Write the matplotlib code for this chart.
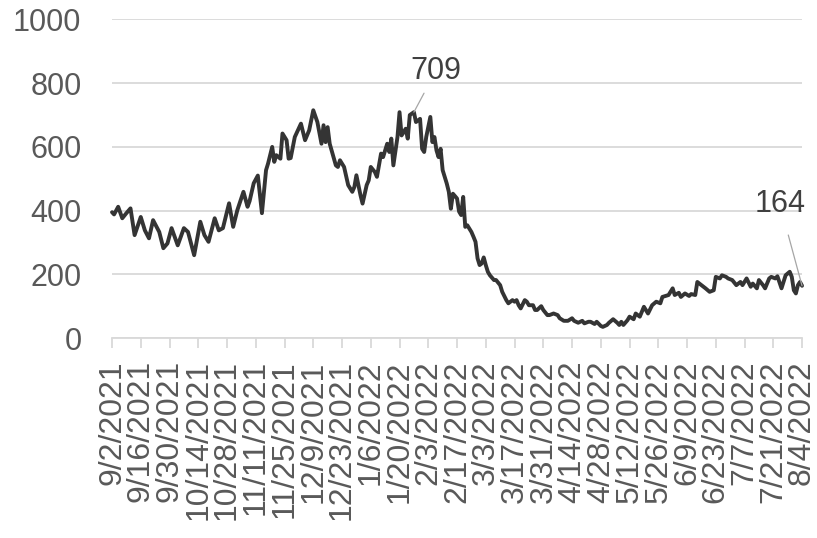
import numpy as np
import matplotlib
matplotlib.use("Agg")
import matplotlib.pyplot as plt
import datetime as dt

# ---- data (day offset from 9/2/2021, value) ----
start_date = dt.date(2021, 9, 2)
day_offsets = [0, 1, 3, 5, 7, 9, 11, 14, 16, 18, 20, 23, 25, 27, 29, 32, 35, 37, 40, 43, 45, 47,
               50, 52, 54, 57, 59, 61, 64, 66, 67, 69, 71, 73, 75, 76, 78, 79, 80, 82, 83, 85, 86,
               87, 89, 92, 94, 96, 98, 100, 102, 103, 104, 105, 106, 109, 110, 111, 113, 115, 117,
               118, 119, 121, 122, 124, 125, 126, 128, 129, 131, 132, 134, 135, 136, 137, 139, 140,
               141, 143, 144, 145, 147, 148, 150, 151, 152, 153, 155, 156, 157, 158, 159, 160, 161,
               163, 164, 165, 166, 168, 169, 170, 171, 172, 173, 175, 176, 177, 178, 179, 180, 181,
               182, 183, 184, 186, 187, 189, 190, 192, 193, 195, 196, 197, 198, 199, 201, 202, 203,
               205, 206, 207, 209, 210, 212, 213, 215, 217, 218, 220, 222, 224, 225, 227, 229, 230,
               232, 233, 235, 236, 238, 239, 241, 242, 244, 246, 247, 248, 249, 251, 252, 254, 255,
               257, 259, 261, 263, 265, 267, 268, 271, 273, 274, 276, 277, 279, 281, 282, 284, 285,
               287, 289, 291, 293, 294, 296, 297, 299, 300, 302, 304, 306, 307, 309, 311, 312, 314,
               315, 317, 318, 320, 321, 323, 324, 326, 327, 328, 330, 331, 332, 333, 334, 335, 336]
values = [395, 388, 412, 376, 392, 407, 323, 380, 338, 313, 370, 333, 282, 297, 345, 291, 345, 333,
          260, 365, 323, 302, 376, 338, 345, 423, 349, 401, 459, 412, 430, 486, 510, 392, 527, 548,
          600, 553, 574, 563, 642, 621, 563, 565, 631, 673, 621, 652, 715, 678, 610, 668, 615, 662,
          610, 542, 537, 558, 537, 480, 459, 474, 511, 448, 422, 480, 495, 537, 521, 506, 579, 568,
          610, 584, 626, 542, 631, 709, 636, 657, 626, 700, 709, 678, 688, 594, 584, 631, 694, 615,
          631, 589, 568, 594, 527, 485, 459, 406, 453, 438, 397, 386, 443, 349, 354, 333, 318, 302,
          250, 229, 234, 253, 229, 208, 197, 182, 182, 166, 145, 119, 109, 119, 114, 119, 103, 93,
          119, 114, 103, 103, 88, 88, 100, 88, 72, 72, 77, 72, 62, 54, 54, 62, 54, 48, 54, 46, 51,
          51, 44, 51, 38, 35, 41, 48, 59, 48, 41, 51, 41, 56, 67, 59, 77, 67, 98, 77, 103, 114, 109,
          129, 135, 156, 135, 142, 129, 140, 132, 138, 135, 176, 166, 156, 145, 150, 192, 187, 197,
          192, 187, 182, 166, 176, 166, 187, 161, 171, 156, 182, 166, 156, 187, 192, 187, 194, 156,
          176, 197, 208, 192, 150, 140, 166, 176, 164]

y_ticks = [0, 200, 400, 600, 800, 1000]
tick_step_days = 14
peak_label = ("709", 147, 709)
last_label = ("164", 336, 164)

dates = [start_date + dt.timedelta(days=d) for d in day_offsets]
x_ticks = [start_date + dt.timedelta(days=k) for k in range(0, 337, tick_step_days)]
x_tick_labels = [f"{d.month}/{d.day}/{d.year}" for d in x_ticks]

plt.rcParams['font.family'] = ['Liberation Sans', 'DejaVu Sans']

fig = plt.figure(figsize=(8.17, 5.38), dpi=100)
ax = fig.add_axes([0.1371, 0.3717, 0.8446, 0.5921])

ax.plot(dates, values, color='#343434', lw=2.8, solid_joinstyle='round',
        solid_capstyle='round', zorder=3, clip_on=False)

ax.set_ylim(0, 1000)
ax.set_xlim(start_date, start_date + dt.timedelta(days=336))
ax.set_yticks(y_ticks)
ax.set_yticklabels([str(v) for v in y_ticks])
ax.set_xticks(x_ticks)
ax.set_xticklabels(x_tick_labels, rotation=90, ha='center', va='top')

ax.grid(axis='y', color='#d9d9d9', lw=1.3, zorder=0)
ax.set_axisbelow(True)
for s in ['left', 'right', 'top']:
    ax.spines[s].set_visible(False)
ax.spines['bottom'].set_color('#d9d9d9')
ax.spines['bottom'].set_linewidth(1.3)

ax.tick_params(axis='y', length=0, pad=22, labelsize=22, labelcolor='#595959')
ax.tick_params(axis='x', length=7, width=1.3, color='#d9d9d9', pad=9,
               labelsize=23, labelcolor='#595959')

for txt, d, v in [peak_label]:
    ax.annotate(txt, xy=(start_date + dt.timedelta(days=d), v), xytext=(16, 30),
                textcoords='offset points', ha='center', va='center', fontsize=22,
                color='#404040',
                arrowprops=dict(arrowstyle='-', color='#a6a6a6', lw=0.9, shrinkA=4, shrinkB=0))
for txt, d, v in [last_label]:
    ax.annotate(txt, xy=(start_date + dt.timedelta(days=d), v), xytext=(-16, 59),
                textcoords='offset points', ha='center', va='center', fontsize=22,
                color='#404040',
                arrowprops=dict(arrowstyle='-', color='#a6a6a6', lw=0.9, shrinkA=10, shrinkB=0))

fig.savefig('out.png', dpi=100)
